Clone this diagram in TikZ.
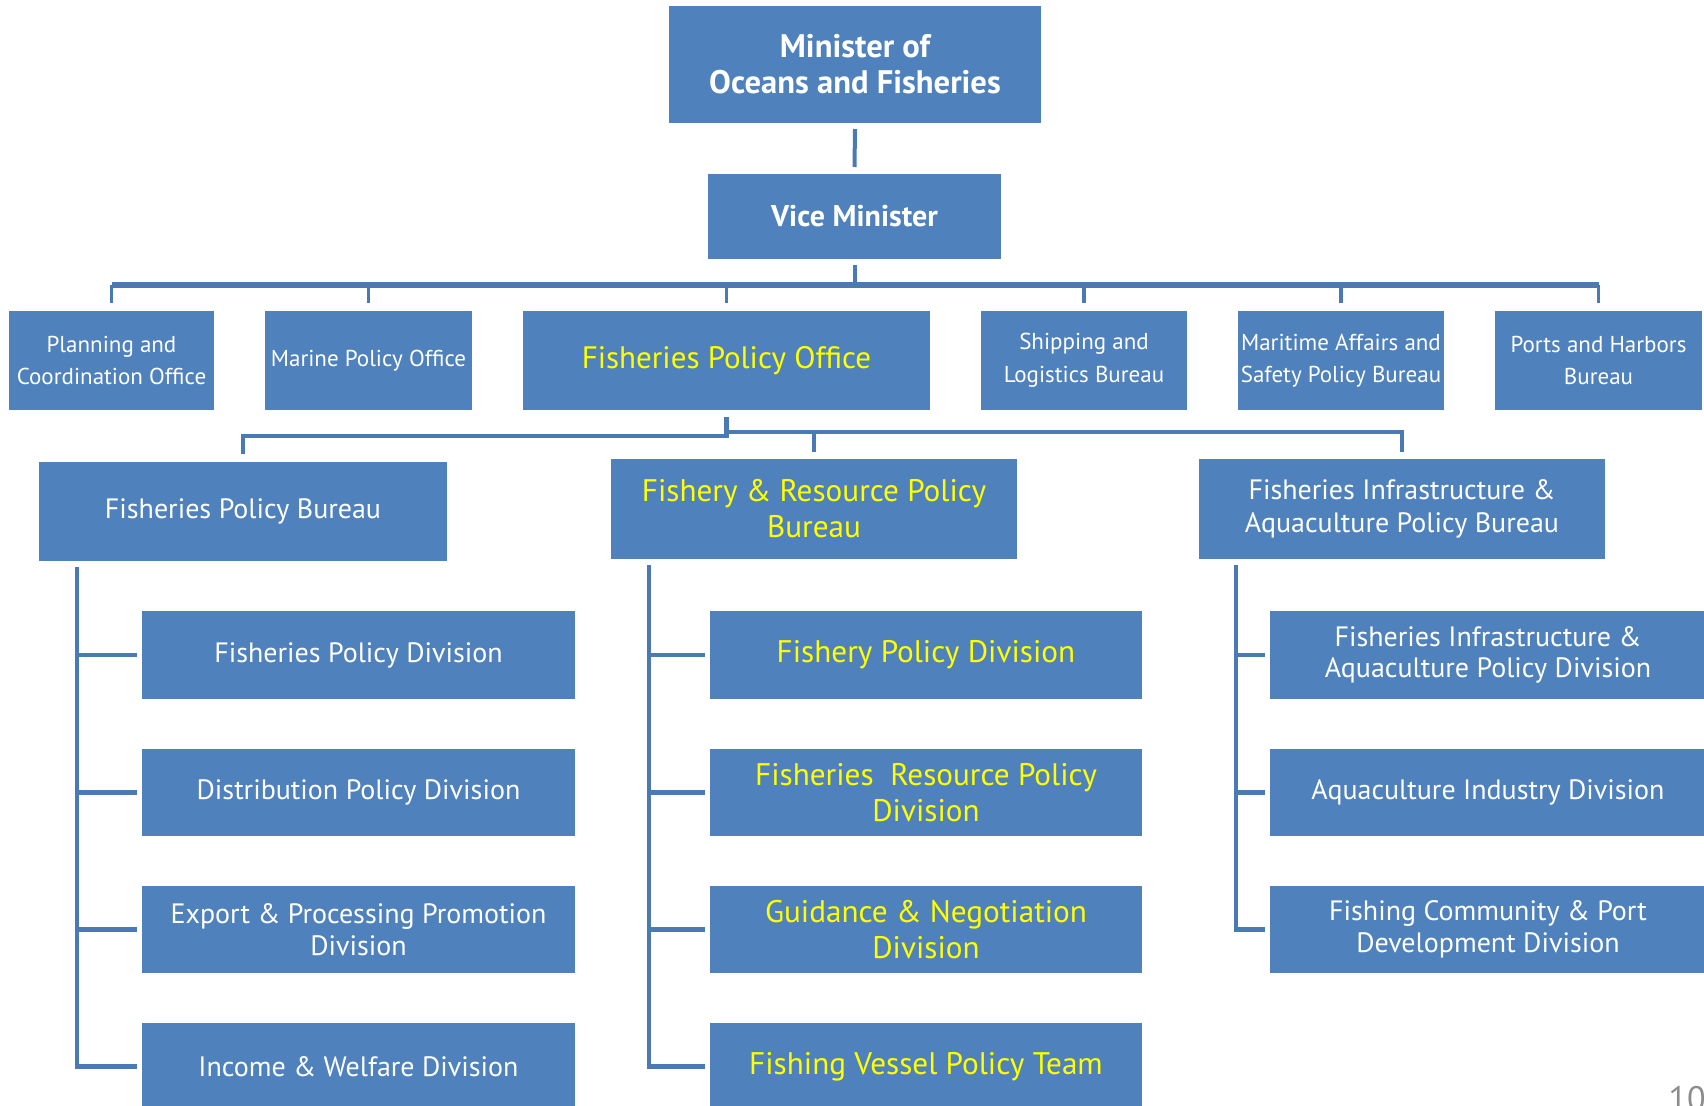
\documentclass[tikz,border=0pt]{standalone}
\usepackage{fontspec}
\setmainfont{PT Sans}
\definecolor{boxblue}{HTML}{4F81BD}
\definecolor{linkblue}{HTML}{4A7AB5}
\definecolor{ylw}{HTML}{FFFF00}
\definecolor{pgnum}{HTML}{8C8C8C}
\tikzset{
  box/.style={fill=boxblue, inner sep=0pt, outer sep=0pt, align=center, text=white},
  ybox/.style={box, text=ylw},
  topfont/.style={font=\fontsize{16.3}{18}\selectfont\bfseries},
  vicefont/.style={font=\fontsize{15}{18}\selectfont\bfseries},
  offfont/.style={font=\fontsize{11.5}{16.3}\selectfont},
  bigy/.style={font=\fontsize{15.5}{18}\selectfont},
  burfont/.style={font=\fontsize{14}{16.3}\selectfont},
  ybur/.style={font=\fontsize{15.6}{18}\selectfont},
  divfont/.style={font=\fontsize{14}{15.75}\selectfont},
  ydiv/.style={font=\fontsize{15.6}{18}\selectfont},
  conn/.style={draw=linkblue, line width=2.4pt, line join=miter, line cap=butt},
  tick/.style={conn, line width=1.8pt},
}
\newcommand{\orgbox}[7]{\node[#6, minimum width={(#4-#2)*0.5pt}, minimum height={(#5-#3)*0.5pt}] (#1) at ({(#2+#4)/2},{(#3+#5)/2}) {#7};}
\begin{document}
\begin{tikzpicture}[x=0.5pt, y=-0.5pt]
\useasboundingbox (0,0) rectangle (1704,1105);
\clip (0,0) rectangle (1704,1105);
% top
\orgbox{min}{669}{6}{1041}{123}{box,topfont}{Minister of\\Oceans and Fisheries}
\orgbox{vice}{708}{174}{1001}{259}{box,vicefont}{Vice Minister}
% offices
\orgbox{plan}{9}{311}{214}{410}{box,offfont}{Planning and\\Coordination Office}
\orgbox{marine}{265}{311}{472}{410}{box,offfont}{Marine Policy Office}
\orgbox{fpo}{523}{311}{930}{410}{ybox,bigy}{Fisheries Policy Office}
\orgbox{ship}{981}{311}{1187}{410}{box,offfont}{Shipping and\\Logistics Bureau}
\orgbox{mari}{1238}{311}{1444}{410}{box,offfont}{Maritime Affairs and\\Safety Policy Bureau}
\orgbox{ports}{1495}{311}{1702}{410}{box,offfont}{Ports and Harbors\\Bureau}
% bureaus
\orgbox{fpb}{39}{462}{447}{561}{box,burfont}{Fisheries Policy Bureau}
\orgbox{frpb}{611}{459}{1017}{559}{ybox,ybur}{Fishery \& Resource Policy\\Bureau}
\orgbox{fiapb}{1199}{459}{1605}{559}{box,burfont}{Fisheries Infrastructure \&\\Aquaculture Policy Bureau}
% left divisions
\orgbox{l1}{142}{611}{575}{699}{box,divfont}{Fisheries Policy Division}
\orgbox{l2}{142}{749}{575}{836}{box,divfont}{Distribution Policy Division}
\orgbox{l3}{142}{886}{575}{973}{box,divfont}{Export \& Processing Promotion\\Division}
\orgbox{l4}{142}{1023}{575}{1110}{box,divfont}{Income \& Welfare Division}
% middle divisions
\orgbox{m1}{710}{611}{1142}{699}{ybox,ydiv}{Fishery Policy Division}
\orgbox{m2}{710}{749}{1142}{836}{ybox,ydiv}{Fisheries\ \ Resource Policy\\Division}
\orgbox{m3}{710}{886}{1142}{973}{ybox,ydiv}{Guidance \& Negotiation\\Division}
\orgbox{m4}{710}{1023}{1142}{1110}{ybox,ydiv}{Fishing Vessel Policy Team}
% right divisions
\orgbox{r1}{1270}{611}{1706}{699}{box,divfont}{Fisheries Infrastructure \&\\Aquaculture Policy Division}
\orgbox{r2}{1270}{749}{1706}{836}{box,divfont}{Aquaculture Industry Division}
\orgbox{r3}{1270}{886}{1706}{973}{box,divfont}{Fishing Community \& Port\\Development Division}
% connectors: top
\draw[conn, line width=2pt] ([yshift=-3pt]min.south) -- ([yshift=3.5pt]vice.north);
\coordinate (bar) at (855,285);
\draw[conn, line width=2pt] ([yshift=-3pt]vice.south) -- (vice.south |- bar);
\draw[conn, line width=2.8pt] (plan.north |- bar) -- (ports.north |- bar);
\foreach \n in {plan,marine,fpo,ship,mari,ports}
  \draw[tick] (\n.north |- bar) -- ([yshift=4pt]\n.north);
% connectors: office to bureaus
\coordinate (lb) at (0,436);
\coordinate (rb) at (0,432);
\draw[conn] ([yshift=-3.5pt]fpo.south) -- (fpo.south |- lb) -| ([yshift=4pt]fpb.north);
\draw[conn] ([yshift=-3.5pt]fpo.south) -- (fpo.south |- rb) -| ([yshift=3.5pt]fiapb.north);
\draw[tick, line width=2.2pt] (frpb.north |- rb) -- ([yshift=3.5pt]frpb.north);
% trunks
\coordinate (tl) at (77,567);
\coordinate (tm) at (649,565);
\coordinate (tr) at (1236,565);
\draw[conn] (tl) |- ([xshift=-2.7pt]l4.west);
\foreach \n in {l1,l2,l3} \draw[conn] (tl |- \n.west) -- ([xshift=-2.7pt]\n.west);
\draw[conn] (tm) |- ([xshift=-2.7pt]m4.west);
\foreach \n in {m1,m2,m3} \draw[conn] (tm |- \n.west) -- ([xshift=-2.7pt]\n.west);
\draw[conn] (tr) |- ([xshift=-2.7pt]r3.west);
\foreach \n in {r1,r2} \draw[conn] (tr |- \n.west) -- ([xshift=-2.7pt]\n.west);
% page number
\node[anchor=base east, text=pgnum, font=\fontsize{17}{20}\selectfont, inner sep=0pt] (pg) at (1706,1110) {10};
\end{tikzpicture}
\end{document}
